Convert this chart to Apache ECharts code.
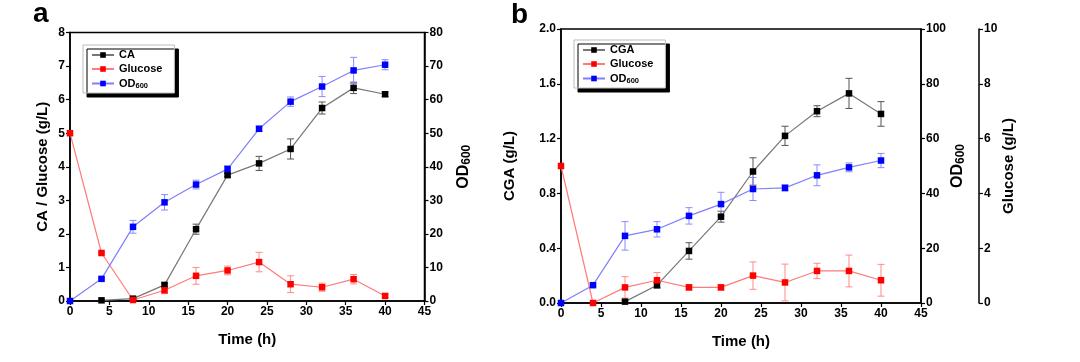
<!DOCTYPE html>
<html>
<head>
<meta charset="utf-8">
<script src="https://cdn.jsdelivr.net/npm/echarts@6/dist/echarts.min.js"></script>
<style>html,body{margin:0;padding:0;background:#fff}#c{width:1080px;height:362px}</style>
</head>
<body>
<div id="c"></div>
<script>
// ---- data ----
const time = [0, 4, 8, 12, 16, 20, 24, 28, 32, 36, 40];

// panel a
const caA     = [null, 0.02, 0.07, 0.48, 2.14, 3.75, 4.10, 4.53, 5.75, 6.35, 6.16];
const caErrA  = [null, 0.01, 0.03, 0.05, 0.15, 0.05, 0.21, 0.30, 0.18, 0.17, 0.07];
const gluA    = [5.0, 1.43, 0.03, 0.32, 0.75, 0.91, 1.16, 0.50, 0.41, 0.65, 0.15];
const gluErrA = [0, 0.03, 0.03, 0.10, 0.25, 0.13, 0.29, 0.25, 0.12, 0.14, 0.05];
const odA     = [0, 6.6, 22.1, 29.4, 34.7, 39.3, 51.3, 59.4, 63.9, 68.7, 70.4];
const odErrA  = [0, 0.3, 1.9, 2.3, 1.3, 1.0, 0.8, 1.4, 3.0, 3.9, 1.5];

// panel b
const cgaB    = [null, null, 0.01, 0.13, 0.38, 0.63, 0.96, 1.22, 1.40, 1.53, 1.38];
const cgaErrB = [null, null, 0.01, 0.02, 0.06, 0.04, 0.10, 0.07, 0.04, 0.11, 0.09];
const gluB    = [5.0, 0, 0.57, 0.83, 0.57, 0.57, 1.00, 0.75, 1.17, 1.17, 0.83];
const gluErrB = [0, 0, 0.39, 0.28, 0.10, 0.10, 0.50, 0.67, 0.28, 0.58, 0.58];
const odB     = [0, 6.5, 24.5, 26.9, 31.8, 36.1, 41.6, 42.0, 46.6, 49.5, 52.0];
const odErrB  = [0, 0.5, 5.2, 2.8, 3.0, 4.3, 4.2, 1.1, 3.8, 1.6, 2.6];

const FONT = 'Liberation Sans';
const C = {
  black: {mk: '#000000', ln: '#777777', err: '#555555'},
  red:   {mk: '#ff0000', ln: '#ff7a7a', err: '#ff8a8a'},
  blue:  {mk: '#0000ff', ln: '#7f7fff', err: '#8a8aff'}
};

function pairs(vals) {
  const out = [];
  vals.forEach((v, i) => { if (v !== null) out.push([time[i], v]); });
  return out;
}
function errPairs(vals, errs) {
  const out = [];
  vals.forEach((v, i) => { if (v !== null && errs[i] > 0) out.push([time[i], v, errs[i]]); });
  return out;
}

function lineSeries(name, vals, col, xi, yi) {
  return {
    type: 'line', name: name, xAxisIndex: xi, yAxisIndex: yi,
    data: pairs(vals), symbol: 'rect', symbolSize: 6.5,
    itemStyle: {color: col.mk},
    lineStyle: {color: col.ln, width: 1.2},
    z: 5, animation: false
  };
}
function errSeries(vals, errs, col, xi, yi) {
  return {
    type: 'custom', xAxisIndex: xi, yAxisIndex: yi,
    data: errPairs(vals, errs), z: 3, animation: false, silent: true,
    renderItem: function (params, api) {
      const x = api.value(0), y = api.value(1), e = api.value(2);
      const top = api.coord([x, y + e]);
      const bot = api.coord([x, y - e]);
      const w = 3.5;
      const st = {stroke: col.err, lineWidth: 1};
      return {
        type: 'group',
        children: [
          {type: 'line', shape: {x1: top[0], y1: top[1], x2: bot[0], y2: bot[1]}, style: st},
          {type: 'line', shape: {x1: top[0] - w, y1: top[1], x2: top[0] + w, y2: top[1]}, style: st},
          {type: 'line', shape: {x1: bot[0] - w, y1: bot[1], x2: bot[0] + w, y2: bot[1]}, style: st}
        ]
      };
    }
  };
}

const axisLine = {show: true, lineStyle: {color: '#000', width: 1.5}};
const axisTick = {show: true, inside: false, length: 4, lineStyle: {color: '#000', width: 1.2}};
const axisLabel = {color: '#000', fontFamily: FONT, fontWeight: 'bold', fontSize: 12, margin: 5};
const nameStyle = {color: '#000', fontFamily: FONT, fontWeight: 'bold', fontSize: 15};
const odName = '{a|OD}{b|600}';
const odNameStyle = {
  color: '#000', fontFamily: FONT, fontWeight: 'bold', fontSize: 15,
  rich: {
    a: {fontFamily: FONT, fontWeight: 'bold', fontSize: 16, color: '#000'},
    b: {fontFamily: FONT, fontWeight: 'bold', fontSize: 12, color: '#000', padding: [6, 0, 0, 0]}
  }
};

function xAxis(gi) {
  return {
    type: 'value', gridIndex: gi, min: 0, max: 45, interval: 5,
    axisLine: axisLine, axisTick: axisTick, axisLabel: axisLabel, splitLine: {show: false},
    name: 'Time (h)', nameLocation: 'middle', nameGap: 31, nameTextStyle: nameStyle
  };
}
function yAxis(gi, opt) {
  return Object.assign({
    type: 'value', gridIndex: gi,
    axisLine: axisLine, axisTick: axisTick, axisLabel: axisLabel, splitLine: {show: false},
    nameLocation: 'middle', nameRotate: 90, nameTextStyle: nameStyle
  }, opt);
}

const legendText = {
  fontFamily: FONT, fontWeight: 'bold', fontSize: 11, color: '#000', lineHeight: 12,
  rich: {
    a: {fontFamily: FONT, fontWeight: 'bold', fontSize: 11, color: '#000', lineHeight: 12},
    b: {fontFamily: FONT, fontWeight: 'bold', fontSize: 7.5, color: '#000', lineHeight: 12, padding: [5, 0, 0, 0]}
  }
};
function legend(left, top, names) {
  return {
    orient: 'vertical', left: left, top: top, data: names,
    itemWidth: 22, itemHeight: 7, itemGap: 2, width: 80,
    padding: [4, 12, 3, 8],
    backgroundColor: '#fff', borderColor: '#bbb', borderWidth: 1,
    shadowColor: '#000', shadowBlur: 0, shadowOffsetX: 4, shadowOffsetY: 4,
    textStyle: legendText,
    formatter: function (n) { return n === 'OD600' ? '{a|OD}{b|600}' : n; },
    selectedMode: false
  };
}

const option = {
  backgroundColor: '#fff',
  animation: false,
  grid: [
    {left: 70, right: 1080 - 424.5, top: 32.5, bottom: 362 - 301, show: true, borderColor: '#000', borderWidth: 1.5, backgroundColor: 'transparent'},
    {left: 561, right: 1080 - 921, top: 29, bottom: 362 - 303, show: true, borderColor: '#000', borderWidth: 1.5, backgroundColor: 'transparent'}
  ],
  xAxis: [xAxis(0), xAxis(1)],
  yAxis: [
    yAxis(0, {min: 0, max: 8, interval: 1, position: 'left', name: 'CA / Glucose (g/L)', nameGap: 20}),
    yAxis(0, {min: 0, max: 80, interval: 10, position: 'right', name: odName, nameGap: 30, nameTextStyle: odNameStyle}),
    yAxis(1, {min: 0, max: 2.0, interval: 0.4, position: 'left', name: 'CGA (g/L)', nameGap: 44,
      axisLabel: Object.assign({}, axisLabel, {formatter: v => v.toFixed(1)})}),
    yAxis(1, {min: 0, max: 100, interval: 20, position: 'right', name: odName, nameGap: 26, nameTextStyle: odNameStyle}),
    yAxis(1, {min: 0, max: 10, interval: 2, position: 'right', offset: 58, name: 'Glucose (g/L)', nameGap: 20})
  ],
  legend: [
    legend(83, 45, ['CA', 'Glucose', 'OD600']),
    legend(574, 40, ['CGA', 'Glucose', 'OD600'])
  ],
  graphic: [
    {type: 'text', left: 33, top: 0, style: {text: 'a', fontFamily: FONT, fontWeight: 'bold', fontSize: 28, fill: '#000'}},
    {type: 'text', left: 511, top: 1, style: {text: 'b', fontFamily: FONT, fontWeight: 'bold', fontSize: 28, fill: '#000'}}
  ],
  series: [
    errSeries(caA, caErrA, C.black, 0, 0),
    errSeries(gluA, gluErrA, C.red, 0, 0),
    errSeries(odA, odErrA, C.blue, 0, 1),
    lineSeries('CA', caA, C.black, 0, 0),
    lineSeries('Glucose', gluA, C.red, 0, 0),
    lineSeries('OD600', odA, C.blue, 0, 1),

    errSeries(cgaB, cgaErrB, C.black, 1, 2),
    errSeries(gluB, gluErrB, C.red, 1, 4),
    errSeries(odB, odErrB, C.blue, 1, 3),
    lineSeries('CGA', cgaB, C.black, 1, 2),
    lineSeries('Glucose', gluB, C.red, 1, 4),
    lineSeries('OD600', odB, C.blue, 1, 3)
  ]
};

const chart = echarts.init(document.getElementById('c'), null, {renderer: 'canvas'});
chart.setOption(option);
</script>
</body>
</html>
